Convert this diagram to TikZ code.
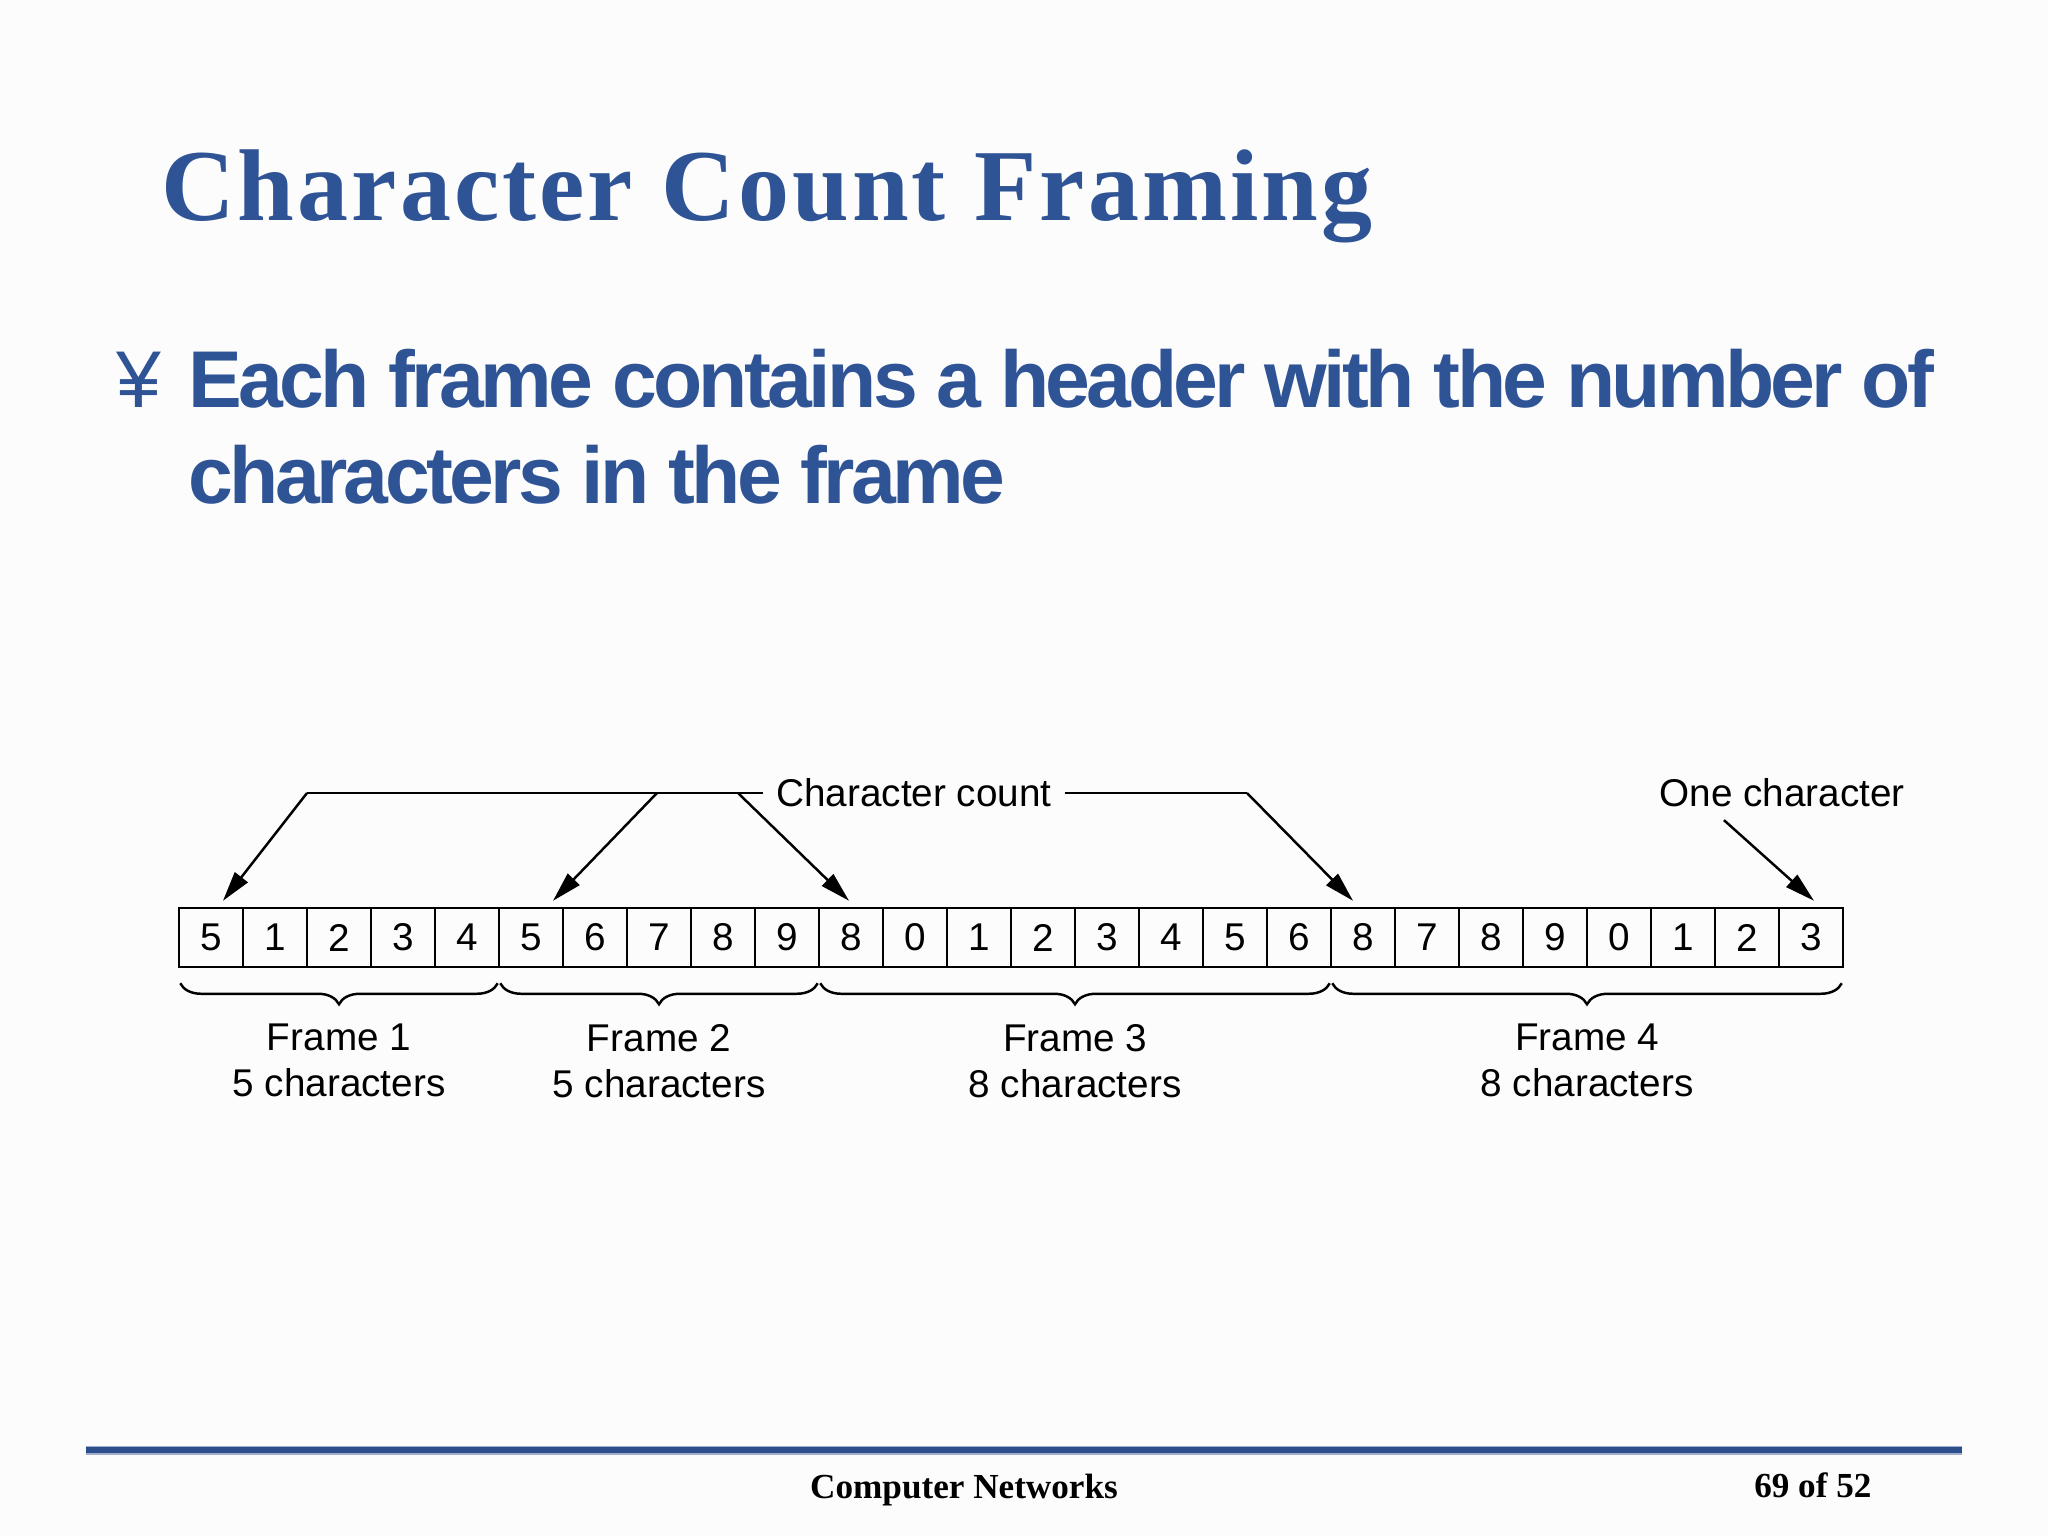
\documentclass[tikz,border=0pt]{standalone}
\usepackage{fontspec}
\setmainfont{Liberation Serif}
\setsansfont{Liberation Sans}
\newfontfamily\titlefont[LetterSpace=3]{Liberation Serif}
\newfontfamily\bulletfont[LetterSpace=-4.5]{Liberation Sans}
\usetikzlibrary{arrows.meta,decorations.pathreplacing,positioning}
\definecolor{slideblue}{RGB}{47,84,150}
\definecolor{rulecol}{RGB}{44,78,140}

\begin{document}
\begin{tikzpicture}[x=0.01cm, y=-0.01cm, line width=0.7pt,
  cellbox/.style={draw, minimum width=0.64cm, minimum height=0.59cm, inner sep=0pt, font=\sffamily\fontsize{11}{13}\selectfont},
  lbl/.style={font=\sffamily\fontsize{11}{13.1}\selectfont, align=center},
  ptr/.style={-{Triangle[length=8.5pt,width=4.6pt]}},
  framebrace/.style={decorate, decoration={brace, mirror, amplitude=0.21cm}},
  slidetext/.style={anchor=base west, inner sep=0pt, text=slideblue}]
  \useasboundingbox (0,0) rectangle (2048,1536);
  \fill[white!99!black] (0,0) rectangle (2048,1536);
  % heading and bullet
  \node[slidetext, font=\titlefont\bfseries\fontsize{29}{34}\selectfont] (title) at (160,220) {Character Count Framing};
  \node[slidetext, font=\sffamily\fontsize{22.9}{27}\selectfont] (bul) at (115,407) {¥};
  \node[slidetext, font=\bulletfont\bfseries\fontsize{22.9}{27}\selectfont] (line1) at (187,407) {Each frame contains a header with the number of};
  \node[slidetext, font=\bulletfont\bfseries\fontsize{22.9}{27}\selectfont] (line2) at (187,503) {characters in the frame};
  % the character stream
  \foreach \d [count=\i] in {5,1,2,3,4,5,6,7,8,9,8,0,1,2,3,4,5,6,8,7,8,9,0,1,2,3}
    \node[cellbox] (c\i) at ({147+64*\i},937.5) {\d};
  % count pointers
  \node[lbl] (cc) at (914,793) {Character count};
  \node[lbl] (oc) at (1782,793) {One character};
  \coordinate (k1) at (307,793);
  \coordinate (k2) at (657,793);
  \coordinate (k3) at (738,793);
  \coordinate (k4) at (1247,793);
  \draw (k1) -- (cc.west);
  \draw (cc.east) -- (k4);
  \draw[ptr] (k1) -- ([xshift=0.12cm,yshift=0.06cm]c1.north);
  \draw[ptr] (k2) -- ([xshift=0.22cm,yshift=0.06cm]c6.north);
  \draw[ptr] (k3) -- ([xshift=-0.02cm,yshift=0.06cm]c11.north);
  \draw[ptr] (k4) -- ([xshift=-0.10cm,yshift=0.06cm]c19.north);
  \draw[ptr] ([xshift=-0.58cm]oc.south) -- ([xshift=0.03cm,yshift=0.06cm]c26.north);
  % frames
  \draw[framebrace] ([xshift=0.025cm,yshift=-0.15cm]c1.south west) -- ([xshift=-0.025cm,yshift=-0.15cm]c5.south east)
    node[lbl, midway, below=0.28cm] (f1) {Frame 1\\5 characters};
  \draw[framebrace] ([xshift=0.025cm,yshift=-0.15cm]c6.south west) -- ([xshift=-0.025cm,yshift=-0.15cm]c10.south east)
    node[lbl, midway, below=0.28cm] (f2) {Frame 2\\5 characters};
  \draw[framebrace] ([xshift=0.025cm,yshift=-0.15cm]c11.south west) -- ([xshift=-0.025cm,yshift=-0.15cm]c18.south east)
    node[lbl, midway, below=0.28cm] (f3) {Frame 3\\8 characters};
  \draw[framebrace] ([xshift=0.025cm,yshift=-0.15cm]c19.south west) -- ([xshift=-0.025cm,yshift=-0.15cm]c26.south east)
    node[lbl, midway, below=0.28cm] (f4) {Frame 4\\8 characters};
  % footer
  \draw[rulecol!45, line width=0.09cm] (86,1450) -- (1962,1450);
  \draw[rulecol, line width=0.06cm] (86,1450) -- (1962,1450);
  \node[anchor=base, inner sep=0pt, font=\bfseries\fontsize{10}{12}\selectfont] (foot) at (964,1498) {Computer Networks};
  \node[anchor=base west, inner sep=0pt, font=\bfseries\fontsize{10}{12}\selectfont] (pg) at (1753,1497) {69 of 52};
\end{tikzpicture}
\end{document}
